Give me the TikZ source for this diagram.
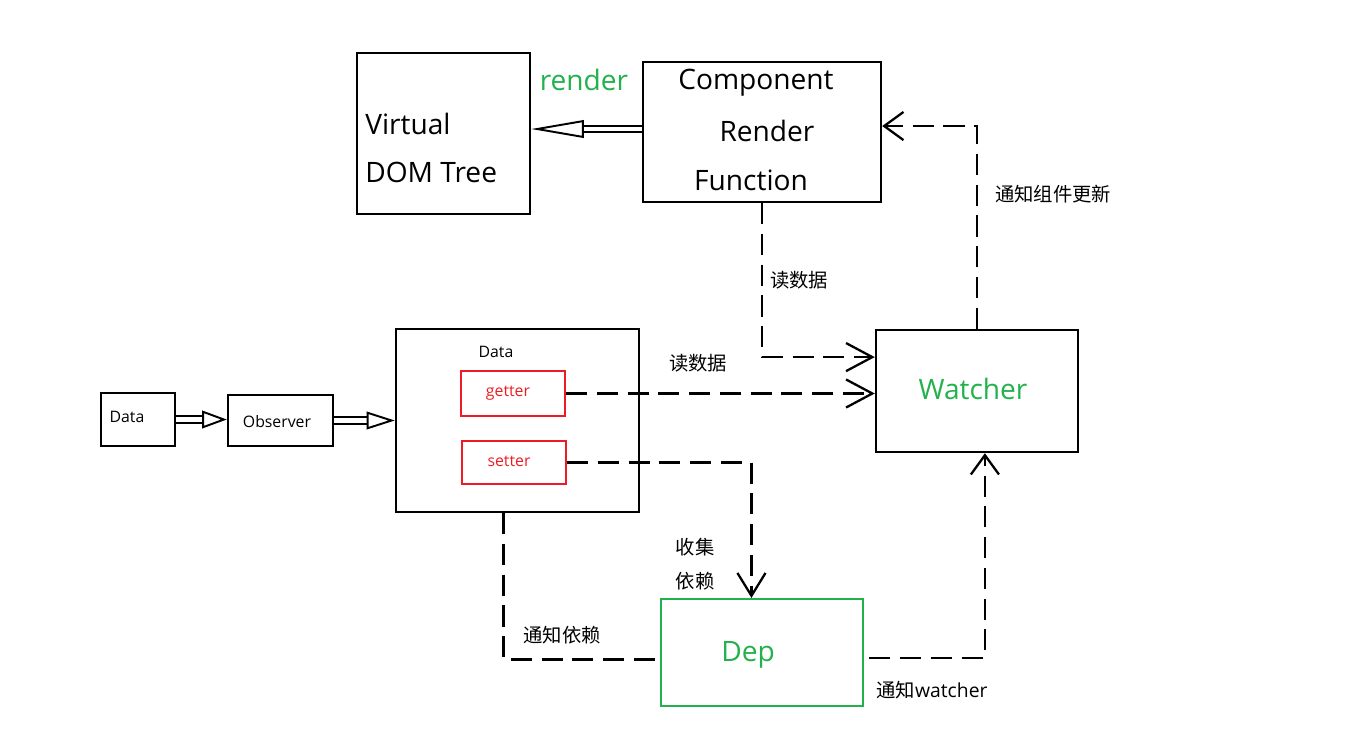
\documentclass[tikz,border=0pt]{standalone}
\usepackage{fontspec}
\setmainfont{Open Sans}
\newfontfamily\cjk{Noto Sans CJK SC}
\usetikzlibrary{arrows.meta,calc}
\definecolor{pgreen}{RGB}{34,177,76}
\definecolor{pred}{RGB}{237,28,36}
\begin{document}
\begin{tikzpicture}[x=0.02cm,y=-0.02cm,
  box/.style={draw, line width=1.4pt, inner sep=0pt},
  rbox/.style={draw=pred, line width=1.2pt, inner sep=0pt},
  gbox/.style={draw=pgreen, line width=1.2pt, inner sep=0pt},
  big/.style={inner sep=0pt, font=\fontsize{16}{19}\selectfont},
  small/.style={inner sep=0pt, font=\fontsize{9}{11}\selectfont},
  cj/.style={inner sep=0pt, font=\cjk\fontsize{11}{19}\selectfont, align=center},
  hollow/.style={double, double distance=2.8pt, line width=1.1pt,
     -{Triangle[open, length=#1, width=10pt, line width=1.1pt]}},
  dashline/.style={line width=1.3pt, dash pattern=on 12pt off 5.5pt},
  barb/.style={-{Straight Barb[length=#1, width=16pt, line width=1.3pt]}},
  barb/.default=14pt]
\useasboundingbox (0,0) rectangle (1365,734);
% boxes
\node[box, minimum width=3.46cm, minimum height=3.22cm] (vdom) at (443.5,133.5) {};
\node[box, minimum width=4.76cm, minimum height=2.8cm] (comp) at (762,132) {};
\node[box, minimum width=1.48cm, minimum height=1.06cm] (sdata) at (138,419.5) {};
\node[box, minimum width=2.10cm, minimum height=1.02cm] (obs) at (280.5,420.5) {};
\node[box, minimum width=4.86cm, minimum height=3.66cm] (bigdata) at (517.5,420.5) {};
\node[rbox, minimum width=2.08cm, minimum height=0.9cm] (getter) at (513,393.5) {};
\node[rbox, minimum width=2.08cm, minimum height=0.86cm] (setter) at (514,462.5) {};
\node[box, minimum width=4.04cm, minimum height=2.44cm] (watcher) at (977,391) {};
\node[gbox, minimum width=4.04cm, minimum height=2.14cm] (dep) at (762,652.5) {};
% texts
\node[big, anchor=west] (t1) at (365,124) {Virtual};
\node[big, anchor=west] (t2) at (365,172) {DOM Tree};
\node[big] (t3) at (756,83) {Component};
\node[big] (t4) at (767,131) {Render};
\node[big] (t5) at (751,180) {Function};
\node[big, text=pgreen] (t6) at (584,80) {render};
\node[small] (t7) at (127,417) {Data};
\node[small] (t8) at (277,422) {Observer};
\node[small] (t9) at (496,352) {Data};
\node[small, text=pred] (t10) at (508,393) {getter};
\node[small, text=pred] (t11) at (509,461) {setter};
\node[big, text=pgreen] (t12) at (973,389) {Watcher};
\node[big, text=pgreen] (t13) at (748,655) {Dep};
\node[cj] (l1) at (799,280) {读数据};
\node[cj] (l2) at (698,363) {读数据};
\node[cj] (l3) at (1053,194) {通知组件更新};
\node[cj] (l4) at (695,564) {收集\\依赖};
\node[cj] (l5) at (562,635) {通知依赖};
\node[inner sep=0pt, font=\fontsize{11}{13}\selectfont] (l6) at (932,690) {{\cjk 通知}watcher};
% hollow arrows
\draw[hollow=30pt] ([yshift=1.7pt]comp.west) -- ([yshift=1.7pt]comp.west -| vdom.east);
\draw[hollow=14pt] (sdata.east) -- (sdata.east -| obs.west);
\draw[hollow=16pt] (obs.east) -- (obs.east -| bigdata.west);
% dashed connectors
\draw[dashline, barb=15pt] (comp.south) |- ([yshift=19.3pt]watcher.west);
\draw[dashline, barb=15pt] (getter.east) -- (getter.east -| watcher.west);
\draw[dashline, barb=13pt] (setter.east) -| ([xshift=-6pt]dep.north);
\draw[dashline] ([xshift=-8pt]bigdata.south) |- ([yshift=-4pt]dep.west);
\draw[dashline, barb=11pt] ([yshift=-3pt,xshift=3pt]dep.east) -| ([xshift=4.5pt]watcher.south);
\draw[dashline, barb=11pt] (watcher.north) |- ([yshift=3.4pt]comp.east);
\end{tikzpicture}
\end{document}
